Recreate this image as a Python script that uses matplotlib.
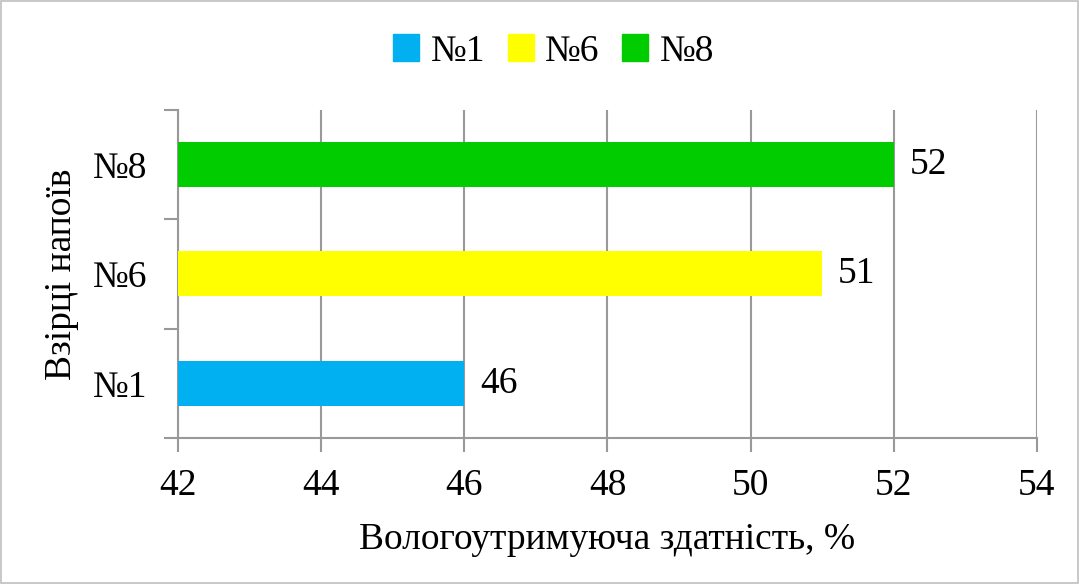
import matplotlib.pyplot as plt
from matplotlib.patches import Rectangle

samples = ["№1", "№6", "№8"]
values = [46, 51, 52]
colors = ["#00b0f0", "#ffff00", "#00cc00"]
x_ticks = [42, 44, 46, 48, 50, 52, 54]

plt.rcParams["font.family"] = ["Liberation Serif", "DejaVu Serif"]
fs = 27

fig = plt.figure(figsize=(10.79, 5.84), dpi=100)
ax = fig.add_axes([0.165, 0.25, 0.796, 0.562])

pos = range(len(samples))
ax.barh(pos, [v - 42 for v in values], left=42, height=0.41,
        color=colors, zorder=3)

for p, v in zip(pos, values):
    ax.text(v + 0.22, p, str(v), va="center", ha="left", fontsize=fs)

ax.set_xlim(42, 54)
ax.set_ylim(-0.5, 2.5)
ax.set_xticks(x_ticks)
ax.set_yticks(list(pos))
ax.set_yticklabels(samples)
ax.set_yticks([-0.5, 0.5, 1.5, 2.5], minor=True)
ax.tick_params(axis="y", which="major", length=0, labelsize=fs, pad=22)
ax.tick_params(axis="y", which="minor", length=10, color="#999999", width=1.5)
ax.tick_params(axis="x", length=10, color="#999999", width=1.5,
               labelsize=fs, pad=12)

ax.grid(axis="x", color="#999999", linewidth=1.5, zorder=0)
for s in ["top", "right"]:
    ax.spines[s].set_visible(False)
for s in ["left", "bottom"]:
    ax.spines[s].set_color("#999999")
    ax.spines[s].set_linewidth(1.5)

ax.set_xlabel("Вологоутримуюча здатність, %", fontsize=fs, labelpad=14)
ax.set_ylabel("Взірці напоїв", fontsize=fs, labelpad=10)

handles = [Rectangle((0, 0), 1, 1, color=c) for c in colors]
fig.legend(handles, samples, loc="center", bbox_to_anchor=(0.513, 0.912),
           ncol=3, frameon=False, fontsize=fs, handlelength=0.7,
           handleheight=0.7, handletextpad=0.3, columnspacing=0.6)

fig.patches.append(Rectangle((0.001, 0.001), 0.998, 0.998, transform=fig.transFigure,
                             fill=False, edgecolor="#bfbfbf", linewidth=1.2))

fig.savefig("out.png", dpi=100)
